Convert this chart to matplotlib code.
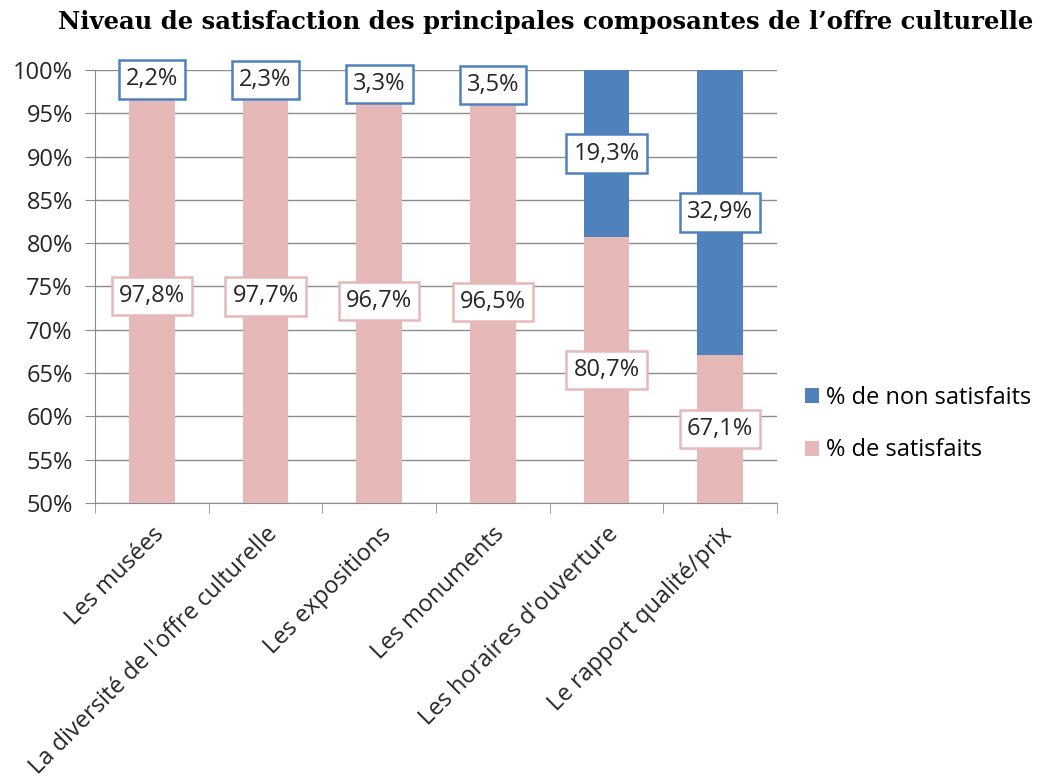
import numpy as np
import matplotlib
matplotlib.use("Agg")
import matplotlib.pyplot as plt

plt.rcParams['font.family'] = ['Open Sans', 'DejaVu Sans']

categories = ["Les musées", "La diversité de l'offre culturelle", "Les expositions",
              "Les monuments", "Les horaires d'ouverture", "Le rapport qualité/prix"]
satisfaits = [97.8, 97.7, 96.7, 96.5, 80.7, 67.1]
non_satisfaits = [2.2, 2.3, 3.3, 3.5, 19.3, 32.9]
sat_labels = ["97,8%", "97,7%", "96,7%", "96,5%", "80,7%", "67,1%"]
non_labels = ["2,2%", "2,3%", "3,3%", "3,5%", "19,3%", "32,9%"]

BLUE = "#4F81BD"
PINK = "#E6B9B8"
GRID = "#8C8C8C"
TXT = "#262626"

fig = plt.figure(figsize=(10.49, 7.8), dpi=100)
ax = fig.add_axes([0.0906, 0.3551, 0.6501, 0.5552])

x = np.arange(len(categories))
ax.bar(x, satisfaits, width=0.4, color=PINK, label="% de satisfaits", zorder=2)
ax.bar(x, non_satisfaits, width=0.4, bottom=satisfaits, color=BLUE,
       label="% de non satisfaits", zorder=2)

ax.set_ylim(50, 100)
ax.set_xlim(-0.5, len(categories) - 0.5)
ax.set_yticks(np.arange(50, 101, 5))
ax.set_yticklabels([f"{v}%" for v in range(50, 101, 5)], fontsize=17, color=TXT)
ax.yaxis.grid(True, color=GRID, lw=1, zorder=0)

ax.set_xticks(x)
ax.set_xticklabels(categories, rotation=45, ha="right", rotation_mode="anchor",
                   fontsize=17, color=TXT)
ax.set_xticks(np.arange(-0.5, len(categories), 1), minor=True)
ax.tick_params(axis="x", which="major", length=0, pad=14)
ax.tick_params(axis="x", which="minor", length=7, color=GRID)
ax.tick_params(axis="y", length=7, color=GRID, pad=9)

for s in ["top", "right"]:
    ax.spines[s].set_visible(False)
for s in ["left", "bottom"]:
    ax.spines[s].set_color(GRID)

for i in range(len(categories)):
    ys = (50 + satisfaits[i]) / 2
    ax.text(x[i], ys, sat_labels[i], ha="center", va="center", fontsize=17, color=TXT,
            bbox=dict(boxstyle="square,pad=0.3", fc="white", ec=PINK, lw=1.8), zorder=4)
    yn = satisfaits[i] + non_satisfaits[i] / 2
    ax.text(x[i], yn, non_labels[i], ha="center", va="center", fontsize=17, color=TXT,
            bbox=dict(boxstyle="square,pad=0.3", fc="white", ec=BLUE, lw=1.8), zorder=4,
            clip_on=False)

handles, labels = ax.get_legend_handles_labels()
fig.legend(handles[::-1], labels[::-1], loc="center left", bbox_to_anchor=(0.767, 0.456),
           frameon=False, fontsize=17, handlelength=0.6, handleheight=0.6,
           handletextpad=0.3, labelspacing=1.2, borderpad=0, borderaxespad=0)

fig.text(0.52, 0.972, "Niveau de satisfaction des principales composantes de l\u2019offre culturelle",
         ha="center", va="center", fontsize=17.5, fontweight="bold",
         family=["DejaVu Serif"])

fig.savefig("out.png", dpi=100)
